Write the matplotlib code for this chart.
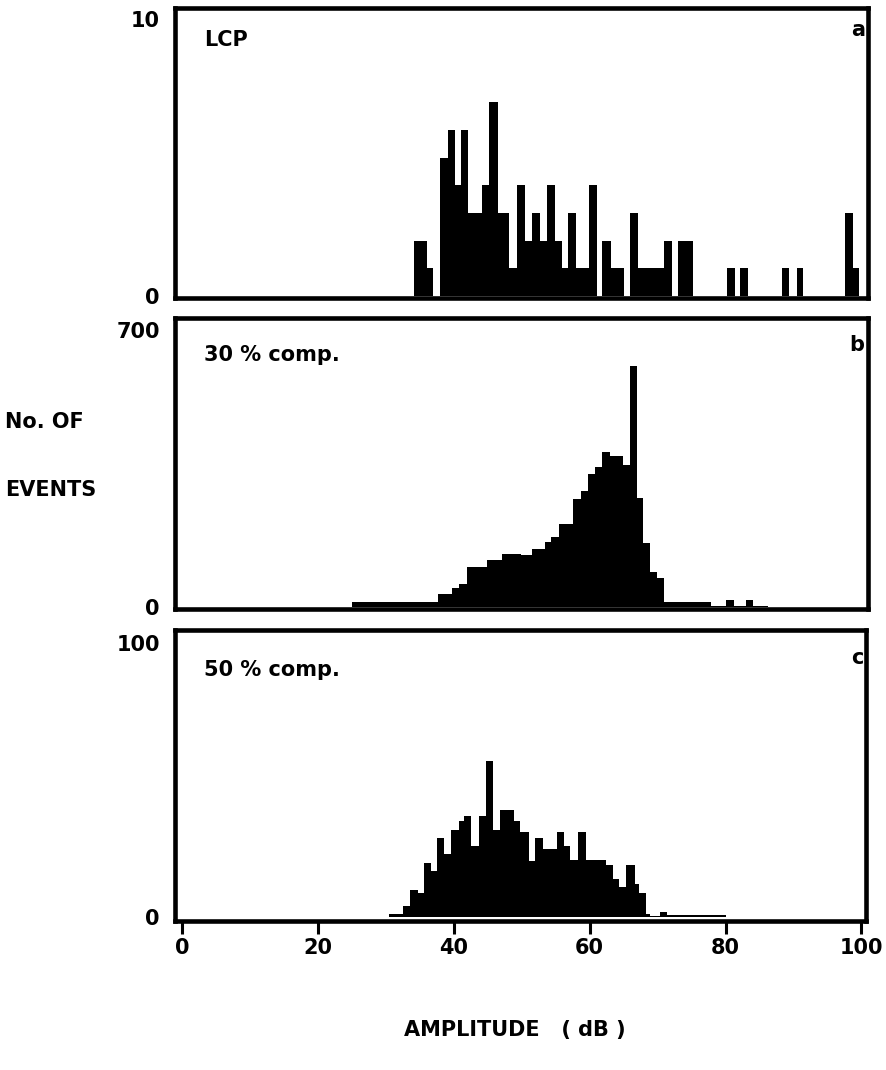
import matplotlib
matplotlib.use("Agg")
import matplotlib.pyplot as plt

plt.rcParams['font.family'] = ['DejaVu Sans']
plt.rcParams['font.weight'] = 'bold'

# ---------------- data (amplitude bin edges in dB, counts per bin) ----------------
edges_a = [34.0, 36.0, 36.9, 37.8, 39.0, 40.0, 40.9, 42.0, 44.0, 45.0, 46.3, 48.0,
           49.2, 50.3, 51.4, 52.5, 53.5, 54.7, 55.7, 56.6, 57.8, 59.7, 60.9, 61.7,
           62.9, 64.8, 65.7, 66.9, 70.8, 71.9, 72.8, 75.0, 80.0, 81.1, 81.9, 83.0,
           88.0, 89.1, 90.2, 91.1, 97.3, 98.5, 99.4]
counts_a = [2, 1, 0, 5, 6, 4, 6, 3, 4, 7, 3,
            1, 4, 2, 3, 2, 4, 2, 1, 3, 1, 4, 0,
            2, 1, 0, 3, 1, 2, 0, 2, 0, 1, 0, 1,
            0, 1, 0, 1, 0, 3, 1]

edges_b = [24.9, 35.7, 37.6, 39.6, 40.6, 41.8, 44.8, 46.9, 49.7, 51.3, 53.2, 54.1,
           55.3, 57.4, 58.5, 59.6, 60.6, 61.7, 62.8, 64.7, 65.7, 66.8, 67.7, 68.7,
           69.7, 70.7, 77.6, 79.9, 81.0, 82.7, 83.8, 86.0]
counts_b = [12, 11, 32, 47, 57, 100, 117, 133, 131, 147, 163,
            175, 208, 273, 292, 335, 353, 392, 380, 359, 609, 275, 161,
            88, 72, 12, 2, 16, 2, 17, 2]

edges_c = [30.5, 32.6, 33.6, 34.7, 35.6, 36.6, 37.5, 38.6, 39.6, 40.7, 41.5, 42.5,
           43.7, 44.7, 45.8, 46.8, 48.8, 49.8, 51.1, 52.0, 53.1, 55.2, 56.2, 57.1,
           58.3, 59.4, 62.4, 63.4, 64.3, 65.4, 66.6, 67.2, 68.3, 68.9, 70.4, 71.4, 80.0]
counts_c = [1.3, 4, 10, 9, 20, 17, 29, 23, 32, 35, 37,
            26, 37, 57, 32, 39, 35, 31, 20.6, 29, 25, 31, 26,
            21, 31, 21, 19, 14, 11, 19, 12, 9, 1.3, 0.5, 2, 1]

panel_titles = ["LCP", "30 % comp.", "50 % comp."]
panel_letters = ["a", "b", "c"]
y_tops = [10, 700, 100]
x_ticks = [0, 20, 40, 60, 80, 100]

# ---------------- layout ----------------
W, H = 887, 1070
fig = plt.figure(figsize=(W / 100, H / 100), dpi=100)


def rect(left, right, top, bottom):
    return [left / W, 1 - bottom / H, (right - left) / W, (bottom - top) / H]


axa = fig.add_axes(rect(175, 868, 8, 298))
axb = fig.add_axes(rect(175, 868, 318, 609))
axc = fig.add_axes(rect(175, 866, 630, 921))
axes = [axa, axb, axc]
ylims = [(-0.07, 10.4), (-6, 730), (-1.3, 104.7)]
datasets = [(edges_a, counts_a), (edges_b, counts_b), (edges_c, counts_c)]

FS = 15
for ax, (e, c), yl, ytop in zip(axes, datasets, ylims, y_tops):
    ax.stairs(c, e, fill=True, color='black', linewidth=0)
    ax.set_xlim(-1.03, 100.67)
    ax.set_ylim(*yl)
    for s in ax.spines.values():
        s.set_linewidth(3.3)
        s.set_color('black')
    ax.set_yticks([0, ytop])
    ax.set_yticklabels([str(0), str(ytop)], fontsize=FS, fontweight='bold')
    ax.tick_params(axis='y', length=0, pad=11)
    ax.set_xticks([])

axc.set_xticks(x_ticks)
axc.set_xticklabels([str(t) for t in x_ticks], fontsize=FS, fontweight='bold')
axc.tick_params(axis='x', direction='out', length=9, width=2.2, pad=3)


def ftext(x, y, s, ha='left', **kw):
    fig.text(x / W, 1 - y / H, s, ha=ha, va='center', fontsize=FS,
             fontweight='bold', **kw)


ftext(204, 40, panel_titles[0])
ftext(204, 355, panel_titles[1])
ftext(204, 670, panel_titles[2])
ftext(858, 30, panel_letters[0], ha='center')
ftext(857, 345, panel_letters[1], ha='center')
ftext(857, 658, panel_letters[2], ha='center')
ftext(5, 422, "No. OF")
ftext(5, 490, "EVENTS")
ftext(515, 1030, "AMPLITUDE   ( dB )", ha='center')

fig.savefig("out.png", dpi=100)
